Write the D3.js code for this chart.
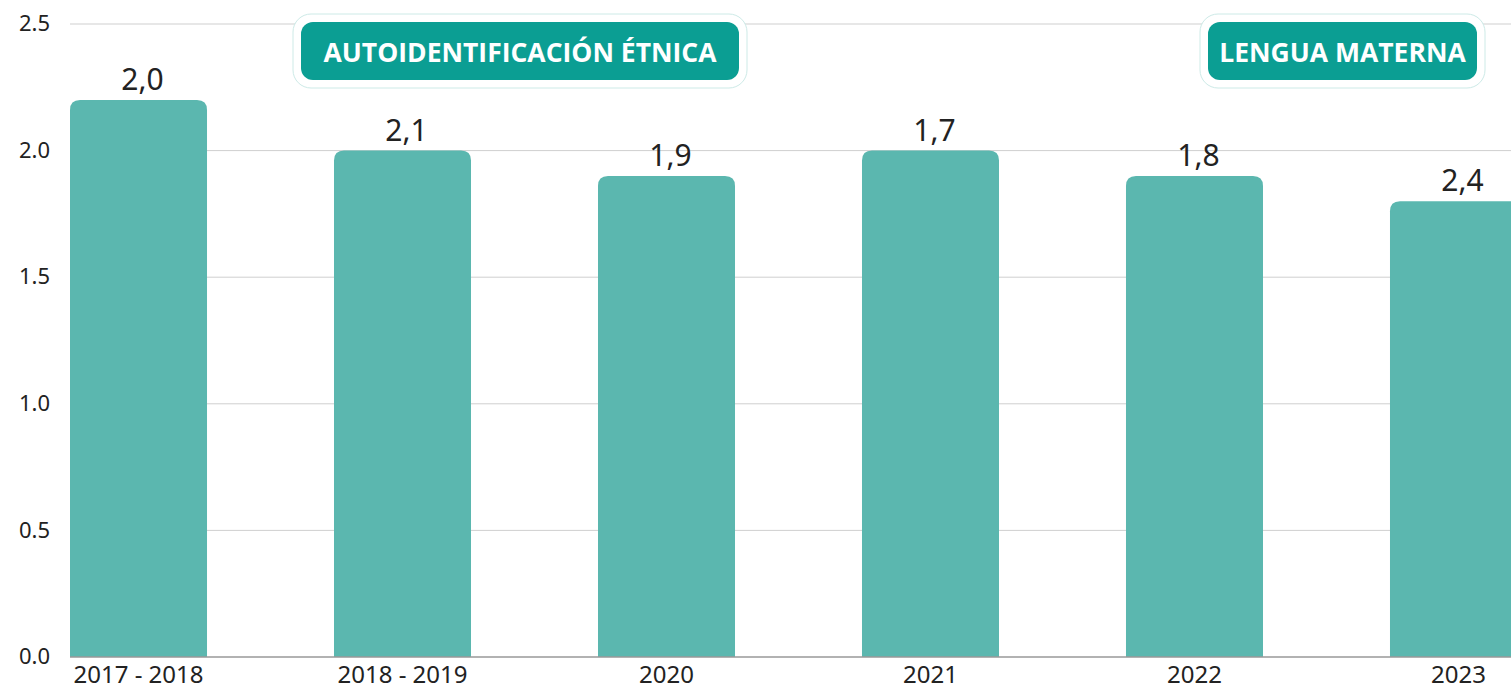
<!DOCTYPE html>
<html>
<head>
<meta charset="utf-8">
<script src="https://cdn.jsdelivr.net/npm/d3@7"></script>
<style>
  body { margin: 0; background: #fff; }
  svg { display: block; }
</style>
</head>
<body>
<svg id="chart" width="1511" height="689"></svg>
<script>
// data
var categories = ["2017 - 2018", "2018 - 2019", "2020", "2021", "2022", "2023"];
var barValues = [2.2, 2.0, 1.9, 2.0, 1.9, 1.8];
var valueLabels = ["2,0", "2,1", "1,9", "1,7", "1,8", "2,4"];
var yTicks = [0, 0.5, 1.0, 1.5, 2.0, 2.5];
var badges = [
    { text: "AUTOIDENTIFICACIÓN ÉTNICA", cx: 520, w: 438 },
    { text: "LENGUA MATERNA", cx: 1342.5, w: 269 }
];

var BarColor = "#5bb7af";
var BadgeColor = "#0b9e93";
var FontFamily = "'Noto Sans', sans-serif";

var svg = d3.select("#chart");

var x = d3.scaleBand()
    .domain(categories)
    .range([70, 1527])
    .paddingInner(0.481)
    .paddingOuter(0)
    .align(0);

var y = d3.scaleLinear()
    .domain([0, 2.5])
    .range([657, 24]);

// gridlines
svg.append("g").selectAll("line.grid")
    .data(yTicks.filter(function (d) { return d > 0; }))
    .enter().append("line")
    .attr("class", "grid")
    .attr("x1", 70).attr("x2", 1511)
    .attr("y1", function (d) { return y(d); })
    .attr("y2", function (d) { return y(d); })
    .attr("stroke", "#cfcfcf")
    .attr("stroke-width", 1);

// y axis labels
var yAxis = d3.axisLeft(y)
    .tickValues(yTicks)
    .tickFormat(d3.format(".1f"))
    .tickSize(0)
    .tickPadding(0);

var yg = svg.append("g")
    .attr("transform", "translate(50,0)")
    .call(yAxis);
yg.select(".domain").remove();
yg.selectAll("text")
    .attr("font-family", FontFamily)
    .attr("font-size", 22)
    .attr("fill", "#222")
    .attr("dy", "0.3em");

// bars with rounded tops
var r = 10;
svg.append("g").selectAll("path.bar")
    .data(barValues)
    .enter().append("path")
    .attr("class", "bar")
    .attr("fill", BarColor)
    .attr("d", function (d, i) {
        var x0 = x(categories[i]), w = x.bandwidth();
        var top = y(d), bottom = y(0);
        return "M" + x0 + "," + bottom +
            "V" + (top + r) +
            "Q" + x0 + "," + top + " " + (x0 + r) + "," + top +
            "H" + (x0 + w - r) +
            "Q" + (x0 + w) + "," + top + " " + (x0 + w) + "," + (top + r) +
            "V" + bottom + "Z";
    });

// baseline
svg.append("line")
    .attr("x1", 70).attr("x2", 1511)
    .attr("y1", y(0)).attr("y2", y(0))
    .attr("stroke", "#999").attr("stroke-width", 1.5);

// x axis labels
var xAxis = d3.axisBottom(x).tickSize(0).tickPadding(0);
var xg = svg.append("g")
    .attr("transform", "translate(0,664)")
    .call(xAxis);
xg.select(".domain").remove();
xg.selectAll("text")
    .attr("font-family", FontFamily)
    .attr("font-size", 24)
    .attr("fill", "#222")
    .attr("dy", "0.8em");

// value labels
svg.append("g").selectAll("text.value")
    .data(barValues)
    .enter().append("text")
    .attr("class", "value")
    .attr("x", function (d, i) { return x(categories[i]) + x.bandwidth() / 2 + 4; })
    .attr("y", function (d) { return y(d) - 10; })
    .attr("text-anchor", "middle")
    .attr("font-family", FontFamily)
    .attr("font-size", 30)
    .attr("fill", "#222")
    .text(function (d, i) { return valueLabels[i]; });

// badges
var bg = svg.append("g").selectAll("g.badge")
    .data(badges)
    .enter().append("g")
    .attr("class", "badge");

bg.append("rect")
    .attr("x", function (d) { return d.cx - d.w / 2 - 8; })
    .attr("y", 14)
    .attr("width", function (d) { return d.w + 16; })
    .attr("height", 74)
    .attr("rx", 18)
    .attr("fill", "#fff")
    .attr("stroke", "#cdeae7")
    .attr("stroke-width", 1);

bg.append("rect")
    .attr("x", function (d) { return d.cx - d.w / 2; })
    .attr("y", 22)
    .attr("width", function (d) { return d.w; })
    .attr("height", 58)
    .attr("rx", 12)
    .attr("fill", BadgeColor);

bg.append("text")
    .attr("x", function (d) { return d.cx; })
    .attr("y", 62)
    .attr("text-anchor", "middle")
    .attr("font-family", "'Open Sans', sans-serif")
    .attr("font-weight", "bold")
    .attr("font-size", 26.5)
    .attr("fill", "#fff")
    .text(function (d) { return d.text; });
</script>
</body>
</html>
